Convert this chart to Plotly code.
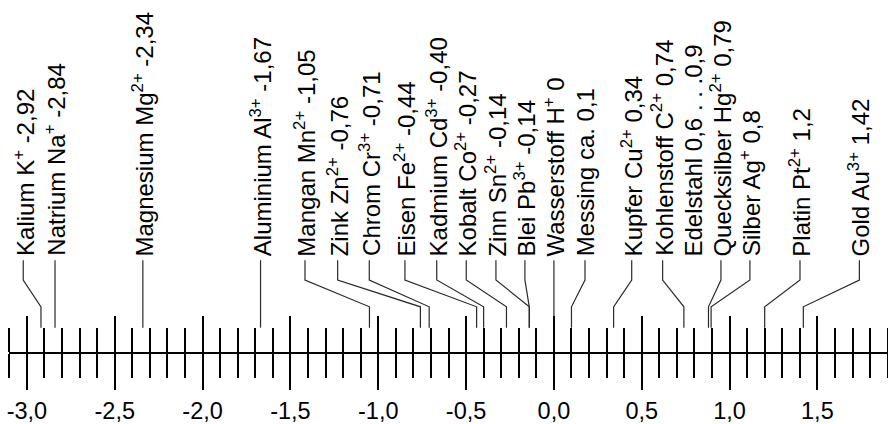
import plotly.graph_objects as go

# ---- data -------------------------------------------------------------
names = ["Kalium K", "Natrium Na", "Magnesium Mg", "Aluminium Al", "Mangan Mn",
         "Zink Zn", "Chrom Cr", "Eisen Fe", "Kadmium Cd", "Kobalt Co", "Zinn Sn",
         "Blei Pb", "Wasserstoff H", "Messing ca.", "Kupfer Cu", "Kohlenstoff C",
         "Edelstahl", "Quecksilber Hg", "Silber Ag", "Platin Pt", "Gold Au"]
charges = ["+", "+", "2+", "3+", "2+", "2+", "3+", "2+", "3+", "2+", "2+",
           "3+", "+", "", "2+", "2+", "", "2+", "+", "2+", "3+"]
value_text = ["-2,92", "-2,84", "-2,34", "-1,67", "-1,05", "-0,76", "-0,71",
              "-0,44", "-0,40", "-0,27", "-0,14", "-0,14", "0", "0,1", "0,34",
              "0,74", "0,6 . . .0,9", "0,79", "0,8", "1,2", "1,42"]
# where each callout points on the scale
pointer_at = [-2.92, -2.84, -2.34, -1.67, -1.05, -0.76, -0.71, -0.44, -0.40,
              -0.27, -0.14, -0.14, 0.0, 0.1, 0.34, 0.74, None, 0.88, 0.895,
              1.2, 1.42]
# column of each rotated label, in scale units
label_pos = [-3.021, -2.84, -2.34, -1.67, -1.417, -1.231, -1.051, -0.848,
             -0.667, -0.499, -0.330, -0.165, 0.0, 0.177, 0.443, 0.619, 0.794,
             0.951, 1.116, 1.401, 1.739]

major_ticks = [-3.0, -2.5, -2.0, -1.5, -1.0, -0.5, 0.0, 0.5, 1.0, 1.5]
major_labels = ["-3,0", "-2,5", "-2,0", "-1,5", "-1,0", "-0,5", "0,0", "0,5", "1,0", "1,5"]
minor_ticks = [round(-3.1 + 0.1 * i, 1) for i in range(51)]

# ---- layout constants (pixel rows) -------------------------------------
W, H = 888, 424
AXIS_Y = 356
TEXT_BOTTOM = 259
LEAD_TOP, BEND1, BEND2, LEAD_END = 262, 282, 309, 330
FONT = "Arial, Liberation Sans, sans-serif"
FS = 24
TICK_FS = 23.5

fig = go.Figure()

# leader lines
lx, ly = [], []
for lp, p in zip(label_pos, pointer_at):
    if p is None:
        continue
    lx += [lp, lp, p, p, None]
    ly += [LEAD_TOP, BEND1, BEND2, LEAD_END, None]
fig.add_trace(go.Scatter(x=lx, y=ly, mode="lines",
                         line=dict(color="#2a2a2a", width=1.2),
                         hoverinfo="skip", showlegend=False))
# dummy trace for the second (upper-tick) axis
fig.add_trace(go.Scatter(x=[0], y=[AXIS_Y], xaxis="x2", mode="markers",
                         marker=dict(opacity=0), hoverinfo="skip", showlegend=False))

for n, c, v, lp in zip(names, charges, value_text, label_pos):
    txt = n + (f"<sup>{c}</sup>" if c else "") + " " + v
    fig.add_annotation(x=lp, y=TEXT_BOTTOM, xref="x", yref="y", text=txt,
                       textangle=-90, xanchor="center", yanchor="bottom",
                       showarrow=False, borderpad=0,
                       font=dict(family=FONT, size=FS, color="black"))

pos = 1 - AXIS_Y / H
common = dict(range=[-3.102, 1.902], showgrid=False, zeroline=False,
              tickmode="array", tickvals=major_ticks,
              ticklen=36, tickwidth=2, tickcolor="black",
              showline=True, linewidth=2, linecolor="black",
              anchor="free", position=pos, fixedrange=True,
              minor=dict(tickmode="array", tickvals=minor_ticks, ticklen=24,
                         tickwidth=2, tickcolor="black", ticks="outside",
                         showgrid=False))

fig.update_layout(
    width=W, height=H,
    margin=dict(l=9, r=0, t=0, b=0),
    paper_bgcolor="white", plot_bgcolor="white",
    showlegend=False, hovermode=False,
    xaxis=dict(**common, ticks="outside", ticktext=major_labels,
               tickfont=dict(family=FONT, size=TICK_FS, color="black")),
    xaxis2=dict(**common, ticks="outside", side="top", overlaying="x",
                matches="x", showticklabels=False),
    yaxis=dict(range=[H, 0], visible=False, domain=[0, 1], fixedrange=True),
)

fig.write_html("out.html", config={"displayModeBar": False, "staticPlot": True},
               post_script="document.body.style.margin='0';document.body.style.overflow='hidden';")
